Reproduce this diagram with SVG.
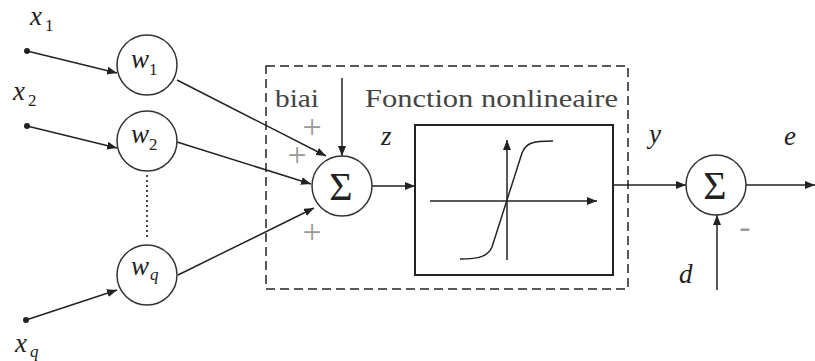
<svg xmlns="http://www.w3.org/2000/svg" width="815" height="361" viewBox="0 0 815 361" font-family="'Liberation Serif', 'Times New Roman', Times, serif">
<defs>
<style>
.ln{stroke:#222;stroke-width:1.5;fill:none}
.cir{stroke:#333;stroke-width:1.5;fill:#fff}
.mi{font-style:italic;font-size:27px;fill:#222}
.sub{font-size:17px;fill:#222}
.rm{font-size:26px;fill:#444}
.sig{font-size:40px;fill:#222;text-anchor:middle}
.pm{font-size:34px;fill:#999;text-anchor:middle}
</style>
<marker id="ah" markerWidth="10" markerHeight="8" refX="10" refY="4" orient="auto" markerUnits="userSpaceOnUse">
<path d="M0,0 L10,4 L0,8 Z" fill="#222"/>
</marker>
</defs>
<rect width="815" height="361" fill="#fff"/>

<g id="connectors">
<line class="ln" x1="27" y1="51" x2="117" y2="73" marker-end="url(#ah)"/>
<line class="ln" x1="27" y1="126" x2="117" y2="148" marker-end="url(#ah)"/>
<line class="ln" x1="26" y1="320" x2="117" y2="290" marker-end="url(#ah)"/>
<line class="ln" x1="177" y1="80" x2="326" y2="156" marker-end="url(#ah)"/>
<line class="ln" x1="177" y1="142" x2="311" y2="184" marker-end="url(#ah)"/>
<line class="ln" x1="178" y1="275" x2="314" y2="208" marker-end="url(#ah)"/>
<line class="ln" x1="342" y1="78" x2="342" y2="156" marker-end="url(#ah)"/>
<line class="ln" x1="372" y1="186" x2="415" y2="186" marker-end="url(#ah)"/>
<line class="ln" x1="613" y1="185" x2="686" y2="185" marker-end="url(#ah)"/>
<line class="ln" x1="746" y1="185" x2="815" y2="185" marker-end="url(#ah)"/>
<line class="ln" x1="717" y1="290" x2="717" y2="215" marker-end="url(#ah)"/>
<line x1="147" y1="175" x2="147" y2="240" stroke="#333" stroke-width="1.8" stroke-dasharray="2,3"/>
</g>

<g id="inputs">
<circle cx="27" cy="51" r="3" fill="#222"/>
<circle cx="27" cy="126" r="3" fill="#222"/>
<circle cx="26" cy="320" r="3" fill="#222"/>
<text class="mi" x="30" y="25">x</text><text class="sub" x="45" y="31">1</text>
<text class="mi" x="13" y="100">x</text><text class="sub" x="28" y="106">2</text>
<text class="mi" x="15" y="352">x</text><text class="sub" x="30" y="357" font-style="italic">q</text>
</g>

<g id="w1">
<circle class="cir" cx="147" cy="65" r="30"/>
<text class="mi" x="131" y="68">w</text><text class="sub" x="149" y="75">1</text>
</g>
<g id="w2">
<circle class="cir" cx="147" cy="141" r="30"/>
<text class="mi" x="131" y="143">w</text><text class="sub" x="149" y="150">2</text>
</g>
<g id="wq">
<circle class="cir" cx="147" cy="275" r="30"/>
<text class="mi" x="131" y="275">w</text><text class="sub" x="150" y="280" font-style="italic">q</text>
</g>

<g id="neuron">
<rect x="266" y="66" width="362" height="223" fill="none" stroke="#222" stroke-width="1.5" stroke-dasharray="9,5"/>
<text class="rm" x="275" y="107" textLength="44" lengthAdjust="spacingAndGlyphs">biai</text>
<text class="rm" x="365" y="107" textLength="253" lengthAdjust="spacingAndGlyphs">Fonction nonlineaire</text>
<text class="pm" x="312" y="138">+</text>
<text class="pm" x="297" y="166">+</text>
<text class="pm" x="312" y="243">+</text>
<text class="mi" x="381" y="145">z</text>
</g>

<g id="sum1">
<circle class="cir" cx="342" cy="186" r="30"/>
<text class="sig" x="341" y="200">Σ</text>
</g>

<g id="activation">
<rect x="415" y="125" width="198" height="150" fill="#fff" stroke="#222" stroke-width="2"/>
<line class="ln" x1="430" y1="201" x2="597" y2="201" marker-end="url(#ah)"/>
<line class="ln" x1="507" y1="260" x2="507" y2="140" marker-end="url(#ah)"/>
<path class="ln" d="M460,259 C480,259 488,256 492,247 L522,153 C526,143 532,141 553,141"/>
</g>

<g id="sum2">
<circle class="cir" cx="716" cy="185" r="30"/>
<text class="sig" x="715" y="199">Σ</text>
<text class="mi" x="649" y="143">y</text>
<text class="mi" x="784" y="145">e</text>
<text class="mi" x="679" y="283">d</text>
<text class="pm" x="745" y="238" font-size="18">-</text>
</g>
</svg>
